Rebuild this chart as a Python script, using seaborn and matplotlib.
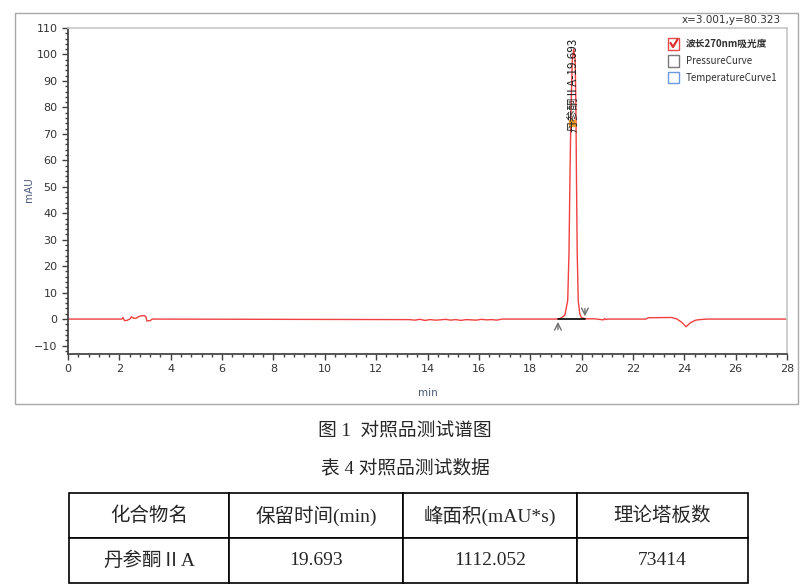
import numpy as np
import pandas as pd
import matplotlib
matplotlib.use('Agg')
import matplotlib.pyplot as plt
from matplotlib.patches import Rectangle
from matplotlib.lines import Line2D
from matplotlib.ticker import MultipleLocator
import seaborn as sns

# --- data ---
rt_min = [0, 2.1, 2.14, 2.2, 2.3, 2.42, 2.47, 2.55, 2.65, 2.75, 2.85, 2.98, 3.04, 3.07, 3.2, 3.28,
          13.3, 13.5, 13.7, 13.9, 14.1, 14.3, 14.5, 14.7, 14.9, 15.1, 15.3, 15.5, 15.7, 15.9,
          16.1, 16.3, 16.5, 16.7, 16.9,
          19.0, 19.15, 19.22, 19.35, 19.46, 19.51, 19.55, 19.59, 19.64, 19.693, 19.75, 19.78,
          19.8, 19.83, 19.87, 19.93, 20.0, 20.15,
          20.5, 20.85, 20.9, 20.95, 21.0, 22.5, 22.6, 23.5, 23.7, 23.9, 24.07, 24.25, 24.45,
          24.6, 24.9, 28.0]
signal_mau = [0, 0, 0.6, -0.6, -0.5, 0.1, 0.9, 0.3, 0.3, 0.9, 1.2, 1.3, 0.8, -0.7, -0.6, 0,
              -0.2, -0.4, -0.1, -0.5, -0.2, -0.4, -0.3, -0.1, -0.4, -0.2, -0.5, -0.2, -0.3, -0.4,
              -0.1, -0.3, -0.2, -0.4, 0,
              0, 0.2, 0.5, 1.5, 7, 25, 55, 80, 98, 102, 98, 80,
              55, 25, 7, 2, 0.5, 0.1,
              0.1, -0.3, 0.2, -0.2, 0, 0, 0.5, 0.6, 0.1, -1.2, -2.9, -1.3, -0.4,
              -0.2, 0, 0]

peak_name = '丹参酮ⅡA'
peak_rt = 19.693
peak_start, peak_end = 19.08, 20.13

legend_items = ['波长270nm吸光度', 'PressureCurve', 'TemperatureCurve1']
legend_colors = ['#e84a4a', '#7a7a7a', '#6a9ae0']

table_header = ['化合物名', '保留时间(min)', '峰面积(mAU*s)', '理论塔板数']
table_row = ['丹参酮ⅡA', '19.693', '1112.052', '73414']

df = pd.DataFrame({'min': rt_min, 'mAU': signal_mau})

sns.set_theme(style='white')
plt.rcParams['font.family'] = ['DejaVu Sans', 'Noto Sans CJK SC']
serif_cjk = ['Liberation Serif', 'Noto Sans CJK SC']
sans_cjk = ['Noto Sans CJK SC', 'DejaVu Sans']

W, H = 810, 587
fig = plt.figure(figsize=(8.1, 5.87), dpi=100)


def fx(x):
    return x / W


def fy(y):
    return 1 - y / H


# outer chart panel
fig.patches.append(Rectangle((fx(15), fy(404)), fx(798) - fx(15), fy(13) - fy(404),
                             transform=fig.transFigure, fill=False, edgecolor='#a8a8a8', lw=1))

ax = fig.add_axes([fx(68), fy(354), fx(787) - fx(68), fy(28) - fy(354)])
sns.lineplot(data=df, x='min', y='mAU', ax=ax, color='#f04040', lw=1, estimator=None, sort=False)

# integration baseline + markers
ax.plot([peak_start, peak_end], [0, 0], color='black', lw=1.2, zorder=3)
ax.annotate('', xy=(peak_start, 0), xytext=(peak_start, -5),
            arrowprops=dict(arrowstyle='->', color='#707070', lw=1))
ax.annotate('', xy=(peak_end, 0), xytext=(peak_end, 5),
            arrowprops=dict(arrowstyle='->', color='#707070', lw=1))
ax.plot([19.62], [74], marker='s', ms=4, color='#f0a030', zorder=4)
ax.text(peak_rt, 88.5, f'{peak_name}-{peak_rt}', rotation=90, ha='center', va='center',
        fontsize=8.5, family=sans_cjk, color='#202020', zorder=5)

ax.set_xlim(0, 28)
ax.set_ylim(-13.2, 110)
ax.xaxis.set_major_locator(MultipleLocator(2))
ax.xaxis.set_minor_locator(MultipleLocator(0.4))
ax.yaxis.set_major_locator(MultipleLocator(10))
ax.yaxis.set_minor_locator(MultipleLocator(2))
ax.tick_params(which='major', direction='out', length=4, width=1, color='#404040',
               labelsize=8, labelcolor='#333333', left=True, bottom=True)
ax.tick_params(which='minor', direction='out', length=2, width=1, color='#404040',
               left=True, bottom=True)
ax.set_xlabel('min', fontsize=7.5, color='#4a5a78', labelpad=10)
ax.set_ylabel('mAU', fontsize=7.5, color='#4a5a78')
ax.yaxis.set_label_coords(-0.047, 0.503)
for side in ['left', 'bottom']:
    ax.spines[side].set_color('#404040')
for side in ['top', 'right']:
    ax.spines[side].set_color('#c8c8c8')

# legend with check boxes
for i, (label, col) in enumerate(zip(legend_items, legend_colors)):
    yc = 44 + i * 17
    fig.patches.append(Rectangle((fx(668), fy(yc + 5.5)), fx(11), 11 / H,
                                 transform=fig.transFigure, fill=False, edgecolor=col, lw=1))
    fig.text(fx(686), fy(yc), label, fontsize=7, va='center', ha='left', color='#303030',
             family=sans_cjk, fontweight='bold' if i == 0 else 'normal')
fig.lines.append(Line2D([fx(670.5), fx(673), fx(677.5)], [fy(43), fy(47), fy(39.5)],
                        transform=fig.transFigure, color='#e03030', lw=1.6))

fig.text(fx(781), fy(20), 'x=3.001,y=80.323', fontsize=7.5, ha='right', va='center',
         color='#333333')

# captions
fig.text(0.5, fy(432), '图 1  对照品测试谱图', fontsize=13.5, ha='center', va='center',
         family=serif_cjk)
fig.text(0.5, fy(468), '表 4 对照品测试数据', fontsize=13.5, ha='center', va='center',
         family=serif_cjk)

# data table
tax = fig.add_axes([fx(69), fy(583), fx(748) - fx(69), fy(493) - fy(583)])
tax.axis('off')
col_w = np.array([160, 174, 174, 171]) / 679
tbl = tax.table(cellText=[table_row], colLabels=table_header, cellLoc='center',
                bbox=[0, 0, 1, 1], colWidths=list(col_w))
tbl.auto_set_font_size(False)
for cell in tbl.get_celld().values():
    cell.set_linewidth(1.2)
    cell.set_edgecolor('black')
    cell.get_text().set_fontsize(14)
    cell.get_text().set_fontfamily(serif_cjk)

fig.savefig('out.png', dpi=100)
